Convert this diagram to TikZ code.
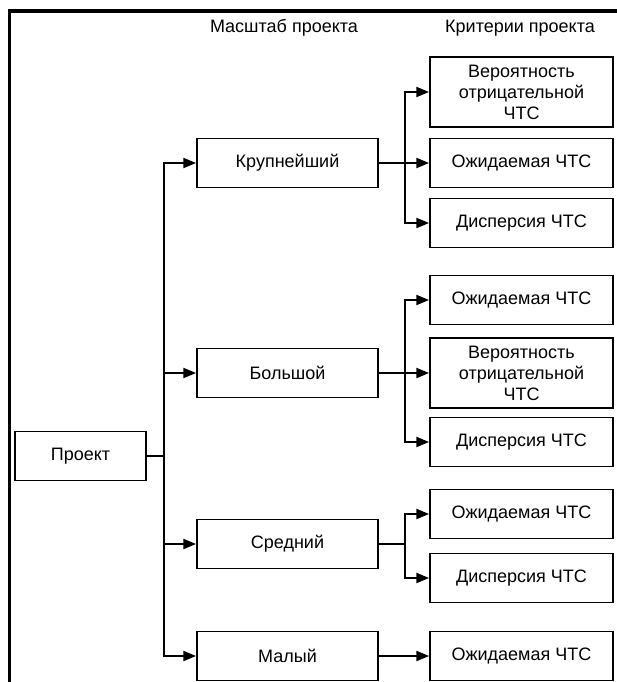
\documentclass[tikz,border=0pt]{standalone}
\usepackage{fontspec}
\setmainfont{Liberation Sans}
\usepackage{tikz}
\usetikzlibrary{positioning,arrows.meta,calc}

\begin{document}
\begin{tikzpicture}[
  x=0.75pt, y=-0.75pt,
  every node/.style={font=\fontsize{13.5pt}{15.8pt}\selectfont},
  PR/.style={draw, line width=1.4pt, minimum height=36.75pt,
             minimum width=98.25pt, align=center, inner sep=0pt},
  SC/.style={draw, line width=1.4pt, minimum height=36.75pt,
             minimum width=135.75pt, align=center, inner sep=0pt},
  CR/.style={draw, line width=1.4pt, minimum height=36.75pt,
             minimum width=137.25pt, align=center, inner sep=0pt},
  CRT/.style={CR, minimum height=52.5pt},
  HD/.style={align=center},
  lin/.style={line width=1.4pt},
  arr/.style={-{Triangle[length=9.5pt,width=7.5pt]}, line width=1.4pt},
]
  \useasboundingbox (0,0) rectangle (617,682);

  % Frame
  \draw[line width=2.7pt] (9.5,682) -- (9.5,11) -- (617,11);

  % Headers
  \node[HD] (hscale) at (284,28) {Масштаб проекта};
  \node[HD] (hcrit)  at (520,28) {Критерии проекта};

  % Main nodes
  \node[PR] (proj) at (80.5,456) {Проект};

  \node[SC] (krup) at (287.5,163) {Крупнейший};
  \node[SC] (bol)  at (287.5,373) {Большой};
  \node[SC] (sred) at (287.5,544) {Средний};
  \node[SC] (mal)  at (287.5,656) {Малый};

  \node[CRT] (k1) at (521.5,92)  {Вероятность\\отрицательной\\ЧТС};
  \node[CR]  (k2) at (521.5,163) {Ожидаемая ЧТС};
  \node[CR]  (k3) at (521.5,223) {Дисперсия ЧТС};

  \node[CR]  (b1) at (521.5,300) {Ожидаемая ЧТС};
  \node[CRT] (b2) at (521.5,373) {Вероятность\\отрицательной\\ЧТС};
  \node[CR]  (b3) at (521.5,442) {Дисперсия ЧТС};

  \node[CR]  (s1) at (521.5,514) {Ожидаемая ЧТС};
  \node[CR]  (s2) at (521.5,578) {Дисперсия ЧТС};

  \node[CR]  (m1) at (521.5,656) {Ожидаемая ЧТС};

  % Branch helper coordinates
  \coordinate (trunk) at (164,456);
  \coordinate (kfork) at (405,163);
  \coordinate (bfork) at (405,373);
  \coordinate (sfork) at (405,544);

  % Arrows
  \draw[lin] (proj.east) -- (trunk);
  \draw[arr] (trunk) |- (krup.west);
  \draw[arr] (trunk) |- (bol.west);
  \draw[arr] (trunk) |- (sred.west);
  \draw[arr] (trunk) |- (mal.west);

  \draw[lin] (krup.east) -- (kfork);
  \draw[arr] (kfork) |- (k1.west);
  \draw[arr] (kfork) -- (k2.west);
  \draw[arr] (kfork) |- (k3.west);

  \draw[lin] (bol.east) -- (bfork);
  \draw[arr] (bfork) |- (b1.west);
  \draw[arr] (bfork) -- (b2.west);
  \draw[arr] (bfork) |- (b3.west);

  \draw[lin] (sred.east) -- (sfork);
  \draw[arr] (sfork) |- (s1.west);
  \draw[arr] (sfork) |- (s2.west);

  \draw[arr] (mal.east) -- (m1.west);

\end{tikzpicture}
\end{document}
